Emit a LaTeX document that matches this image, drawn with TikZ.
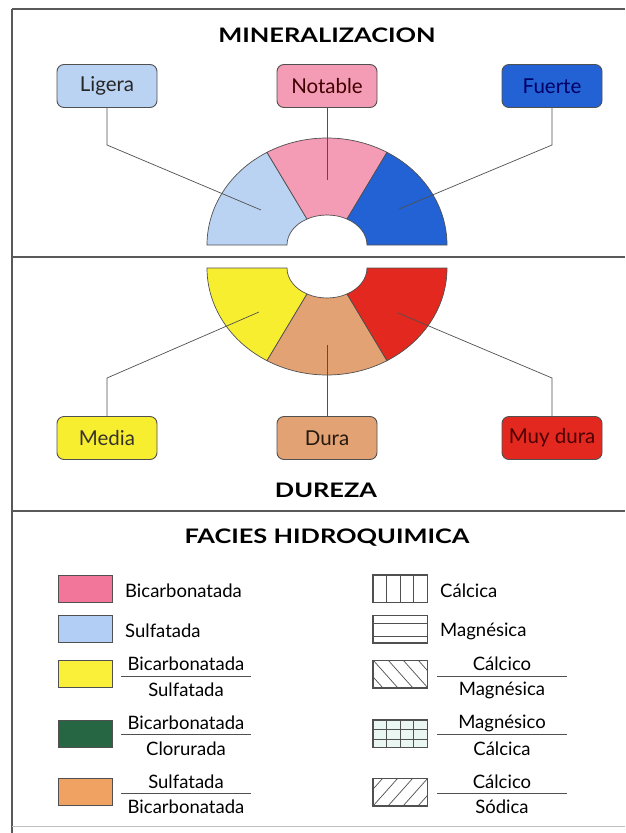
\documentclass[tikz,border=0pt]{standalone}
\usepackage{fontspec}
\setmainfont{Lato}
\usetikzlibrary{calc}
\definecolor{ligfill}{HTML}{BBD3F2}
\definecolor{notfill}{HTML}{F49BB5}
\definecolor{fuefill}{HTML}{2262D4}
\definecolor{medfill}{HTML}{F8EE30}
\definecolor{durfill}{HTML}{E2A274}
\definecolor{muyfill}{HTML}{E2281F}
\definecolor{lgpink}{HTML}{F2769A}
\definecolor{lgblue}{HTML}{B3CEF4}
\definecolor{lgyellow}{HTML}{FAF03A}
\definecolor{lggreen}{HTML}{276642}
\definecolor{lgorange}{HTML}{F0A262}
\definecolor{lgtint}{HTML}{EAF6F1}
\definecolor{linegray}{HTML}{505050}
\newcommand\ringseg[4]{%
  \path[seg, fill=#4] ([shift={(#2:120 and 107)}]#1) arc[start angle=#2, end angle=#3, x radius=120, y radius=107]
    -- ([shift={(#3:40 and 30)}]#1) arc[start angle=#3, end angle=#2, x radius=40, y radius=30] -- cycle;}
\newcommand\wide[1]{\scalebox{1.27}[1]{#1}}
\begin{document}
\begin{tikzpicture}[x=1pt,y=-1pt,
  lbl/.style={draw=linegray, line width=0.9pt, rounded corners=7pt, minimum width=100pt,
    minimum height=43pt, inner sep=0pt, font=\fontsize{20.5}{22}\selectfont},
  ttl/.style={font=\fontsize{20}{22}\selectfont\bfseries, inner sep=0pt},
  con/.style={draw=linegray, line width=0.7pt},
  seg/.style={draw=linegray, line width=0.7pt},
  sep/.style={draw=black!65, line width=1.2pt},
  sw/.style={draw=linegray, line width=0.9pt, minimum width=54pt, minimum height=27pt, inner sep=0pt},
  lt/.style={font=\fontsize{18.5}{20}\selectfont, inner sep=0pt},
  frac/.style={draw=linegray, line width=0.8pt},
  hatch/.style={draw=linegray, line width=0.7pt}]
\useasboundingbox (0,0) rectangle (625,833);
\fill[white] (0,0) rectangle (625,833);
% frame
\draw[sep] (12,9) -- (625,9);
\draw[sep] (12,257) -- (625,257);
\draw[sep] (12,511) -- (625,511);
\draw[sep] (12,9) -- (12,833);
\draw[black!25, line width=1pt] (12,826) -- (625,826);
% ---------- MINERALIZACION ----------
\coordinate (T) at (327,245);
\ringseg{T}{-180}{-120}{ligfill}
\ringseg{T}{-120}{-60}{notfill}
\ringseg{T}{-60}{0}{fuefill}
\node[ttl] (t1) at (327,35) {\wide{MINERALIZACION}};
\node[lbl, fill=ligfill, text=black!85] (lig) at (107,86) {Ligera};
\node[lbl, fill=notfill, text=black!75!red] (not) at (327,86) {Notable};
\node[lbl, fill=fuefill, text=blue!40!black] (fue) at (552,86) {Fuerte};
\coordinate (ligB) at (107,145); \coordinate (ligE) at (261,210);
\coordinate (notE) at (327,180);
\coordinate (fueB) at (552,145); \coordinate (fueE) at (399,209);
\draw[con] (lig.south) -- (ligB) -- (ligE);
\draw[con] (not.south) -- (notE);
\draw[con] (fue.south) -- (fueB) -- (fueE);
% ---------- DUREZA ----------
\coordinate (B) at (327,268);
\ringseg{B}{180}{120}{medfill}
\ringseg{B}{120}{60}{durfill}
\ringseg{B}{60}{0}{muyfill}
\node[lbl, fill=medfill, text=black!80!olive] (med) at (107,438) {Media};
\node[lbl, fill=durfill, text=black!80!brown] (dur) at (327,438) {Dura};
\node[lbl, fill=muyfill, text=black!70!red] (muy) at (552,438) {Muy dura};
\node[ttl] (t2) at (326,490) {\wide{DUREZA}};
\coordinate (medB) at (107,378); \coordinate (medE) at (259,312);
\coordinate (durE) at (327,345);
\coordinate (muyB) at (552,378); \coordinate (muyE) at (398,313);
\draw[con] (med.north) -- (medB) -- (medE);
\draw[con] (dur.north) -- (durE);
\draw[con] (muy.north) -- (muyB) -- (muyE);
% ---------- FACIES ----------
\node[ttl] (t3) at (327,538) {\wide{FACIES HIDROQUIMICA}};
% left column
\node[sw, fill=lgpink] (s1) at (85,588.5) {};
\node[lt, anchor=west] (s1t) at (125,591) {Bicarbonatada};
\node[sw, fill=lgblue] (s2) at (85,629) {};
\node[lt, anchor=west] (s2t) at (125,631) {Sulfatada};
\node[sw, fill=lgyellow] (s3) at (85,674) {};
\node[lt] (s3a) at (186,664) {Bicarbonatada};
\node[lt] (s3b) at (186,690) {Sulfatada};
\draw[frac] (121,676) -- (251,676);
\node[sw, fill=lggreen] (s4) at (85,733.5) {};
\node[lt] (s4a) at (186,723) {Bicarbonatada};
\node[lt] (s4b) at (186,749) {Clorurada};
\draw[frac] (121,734) -- (251,734);
\node[sw, fill=lgorange] (s5) at (85,792) {};
\node[lt] (s5a) at (186,782) {Sulfatada};
\node[lt] (s5b) at (186,807) {Bicarbonatada};
\draw[frac] (121,793) -- (251,793);
% right column
\node[sw] (r1) at (400,588.5) {};
\foreach \f in {0.25,0.5,0.75}
  \draw[hatch] ($(r1.north west)!\f!(r1.north east)$) -- ($(r1.south west)!\f!(r1.south east)$);
\node[lt, anchor=west] (r1t) at (440,591) {Cálcica};
\node[sw] (r2) at (400,629) {};
\foreach \f in {0.3,0.75}
  \draw[hatch] ($(r2.north west)!\f!(r2.south west)$) -- ($(r2.north east)!\f!(r2.south east)$);
\node[lt, anchor=west] (r2t) at (440,631) {Magnésica};
\node[sw] (r3) at (400,674) {};
\begin{scope}
  \clip (r3.south west) rectangle (r3.north east);
  \foreach \k in {-2,...,4}
    \draw[hatch] (373+15*\k,660) -- (398+15*\k,688);
\end{scope}
\node[lt] (r3a) at (502,664) {Cálcico};
\node[lt] (r3b) at (502,690) {Magnésica};
\draw[frac] (437,676) -- (567,676);
\node[sw, fill=lgtint] (r4) at (400,733.5) {};
\foreach \f in {0.25,0.5,0.75}
  \draw[hatch] ($(r4.north west)!\f!(r4.north east)$) -- ($(r4.south west)!\f!(r4.south east)$);
\foreach \f in {0.35,0.7}
  \draw[hatch] ($(r4.north west)!\f!(r4.south west)$) -- ($(r4.north east)!\f!(r4.south east)$);
\node[lt] (r4a) at (502,723) {Magnésico};
\node[lt] (r4b) at (502,749) {Cálcica};
\draw[frac] (437,734) -- (567,734);
\draw[draw=linegray, line width=1.8pt] (543,734.5) -- (567,734.5);
\node[sw] (r5) at (400,792) {};
\begin{scope}
  \clip (r5.south west) rectangle (r5.north east);
  \foreach \k in {-2,...,4}
    \draw[hatch] (373+15*\k,806) -- (398+15*\k,778);
\end{scope}
\node[lt] (r5a) at (502,782) {Cálcico};
\node[lt] (r5b) at (502,807) {Sódica};
\draw[frac] (437,793) -- (567,793);
% redraw swatch borders on top of hatching
\foreach \n in {r1,r2,r3,r4,r5} \draw[linegray, line width=0.9pt] (\n.north west) rectangle (\n.south east);
\end{tikzpicture}
\end{document}
